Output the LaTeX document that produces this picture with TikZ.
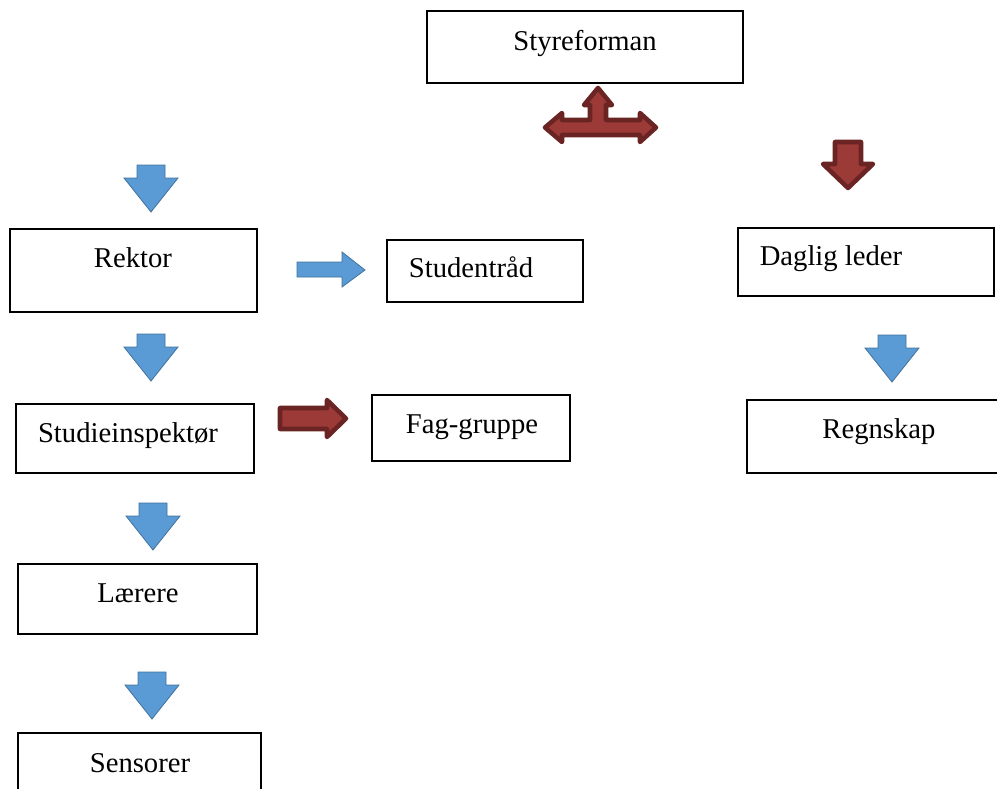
\documentclass[tikz,border=0pt]{standalone}
\usepackage{fontspec}
\setmainfont{Liberation Serif}
\usetikzlibrary{fit}
\definecolor{bfill}{HTML}{5B9BD5}
\definecolor{bline}{HTML}{41719C}
\definecolor{rfill}{HTML}{9B3A37}
\definecolor{rline}{HTML}{6A2423}
\tikzset{
  box/.style={draw=black, line width=1.1pt, inner sep=0pt},
  lbl/.style={inner sep=0pt, anchor=base, font=\fontsize{21.5}{25}\selectfont},
  barrow/.style={fill=bfill, draw=bline, line width=0.6pt, line join=miter},
  rarrow/.style={fill=rfill, draw=rline, line width=3.4pt, line join=round},
}
\begin{document}
\begin{tikzpicture}[x=0.75pt,y=-0.75pt]
\useasboundingbox (0,0) rectangle (997,789);
% boxes
\node[box, fit={(427,11) (743,83)}] (styreBox) {};
\node[box, fit={(10,229) (257,312)}] (rektorBox) {};
\node[box, fit={(387,240) (583,302)}] (studentBox) {};
\node[box, fit={(738,228) (994,296)}] (dagligBox) {};
\node[box, fit={(16,404) (254,473)}] (studieBox) {};
\node[box, fit={(372,395) (570,461)}] (fagBox) {};
\node[box, fit={(747,400) (1005,473)}] (regnBox) {};
\node[box, fit={(18,564) (257,634)}] (laerereBox) {};
\node[box, fit={(18,733) (261,805)}] (sensorBox) {};
% labels
\node[lbl] (styreT) at (585,50) {Styreforman};
\node[lbl] (rektorT) at (133,267) {Rektor};
\node[lbl] (studentT) at (471,277) {Studentråd};
\node[lbl] (dagligT) at (831,265) {Daglig leder};
\node[lbl] (studieT) at (128,442) {Studieinspektør};
\node[lbl] (fagT) at (472,433) {Fag-gruppe};
\node[lbl] (regnT) at (879,438) {Regnskap};
\node[lbl] (laerereT) at (138,602) {Lærere};
\node[lbl] (sensorT) at (140,772) {Sensorer};
% blue down arrows
\foreach \cx/\ty in {151/165, 151/334, 153/503, 152/672, 892/335}{
  \draw[barrow] (\cx-14,\ty) -- (\cx+14,\ty) -- (\cx+14,\ty+13) -- (\cx+27,\ty+13)
    -- (\cx,\ty+47) -- (\cx-27,\ty+13) -- (\cx-14,\ty+13) -- cycle;
}
% blue right arrow
\draw[barrow] (297,262) -- (342,262) -- (342,252) -- (365,270) -- (342,287)
  -- (342,277) -- (297,277) -- cycle;
% red right arrow
\draw[rarrow] (280,408) -- (327,408) -- (327,400) -- (346,418.5) -- (327,437)
  -- (327,429) -- (280,429) -- cycle;
% red down arrow
\draw[rarrow] (835,142) -- (861,142) -- (861,164) -- (873,164) -- (848,188)
  -- (823,164) -- (835,164) -- cycle;
% red T arrow
\draw[rarrow] (590,120) -- (590,105) -- (584,105) -- (598,88) -- (612,105)
  -- (606,105) -- (606,120) -- (640,120) -- (640,113) -- (656,127.5)
  -- (640,142) -- (640,135) -- (562,135) -- (562,142) -- (545,127.5)
  -- (562,113) -- (562,120) -- cycle;
\end{tikzpicture}
\end{document}
